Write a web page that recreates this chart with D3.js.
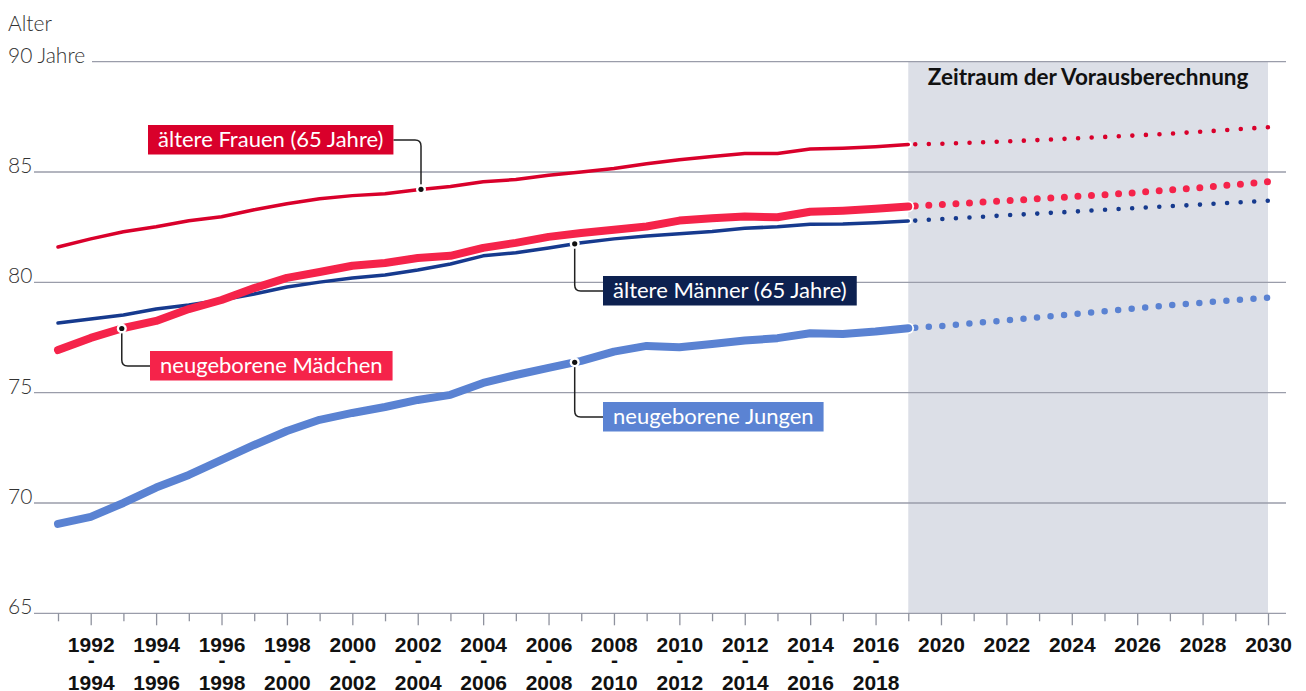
<!DOCTYPE html>
<html>
<head>
<meta charset="utf-8">
<script src="https://cdn.jsdelivr.net/npm/d3@7"></script>
<style>
  body { margin: 0; background: #fff; }
  svg { display: block; font-family: Lato, "Source Sans Pro", "Noto Sans", sans-serif; }
</style>
</head>
<body>
<div id="chart"></div>
<script>
// Zeitraeume der Sterbetafeln (Ist) und Jahre der Vorausberechnung
const periods = [
  '1991 - 1993', '1992 - 1994', '1993 - 1995', '1994 - 1996', '1995 - 1997', '1996 - 1998',
  '1997 - 1999', '1998 - 2000', '1999 - 2001', '2000 - 2002', '2001 - 2003', '2002 - 2004',
  '2003 - 2005', '2004 - 2006', '2005 - 2007', '2006 - 2008', '2007 - 2009', '2008 - 2010',
  '2009 - 2011', '2010 - 2012', '2011 - 2013', '2012 - 2014', '2013 - 2015', '2014 - 2016',
  '2015 - 2017', '2016 - 2018', '2017 - 2019'
];
const projectionYears = ['2019', '2020', '2021', '2022', '2023', '2024', '2025', '2026', '2027', '2028', '2029', '2030'];

const yTicks = [65, 70, 75, 80, 85, 90];
const yTickLabels = ['65', '70', '75', '80', '85', '90 Jahre'];

// Lebenserwartung (Alter in Jahren)
const frauenIst = [81.6, 81.97, 82.29, 82.52, 82.79, 82.97, 83.29, 83.56, 83.79, 83.93, 84.02, 84.2, 84.34,
  84.56, 84.66, 84.85, 85.0, 85.16, 85.37, 85.56, 85.7, 85.84, 85.84, 86.04, 86.08, 86.15, 86.25];
const frauenProj = [86.25, 86.28, 86.33, 86.39, 86.45, 86.52, 86.59, 86.66, 86.74, 86.83, 86.93, 87.03];

const maennerIst = [78.16, 78.34, 78.52, 78.79, 78.97, 79.2, 79.47, 79.79, 80.01, 80.2, 80.33, 80.56, 80.83,
  81.2, 81.34, 81.56, 81.79, 81.97, 82.1, 82.2, 82.3, 82.45, 82.52, 82.63, 82.64, 82.7, 82.78];
const maennerProj = [82.78, 82.87, 82.95, 83.04, 83.12, 83.2, 83.29, 83.37, 83.45, 83.53, 83.62, 83.7];

const maedchenIst = [76.93, 77.48, 77.93, 78.25, 78.79, 79.2, 79.74, 80.2, 80.47, 80.75, 80.88, 81.1, 81.2,
  81.56, 81.79, 82.06, 82.24, 82.38, 82.53, 82.8, 82.9, 82.98, 82.95, 83.2, 83.25, 83.33, 83.44];
const maedchenProj = [83.44, 83.52, 83.61, 83.7, 83.79, 83.88, 83.97, 84.07, 84.19, 84.3, 84.43, 84.56];

const jungenIst = [69.05, 69.37, 70.0, 70.7, 71.27, 71.95, 72.63, 73.26, 73.77, 74.08, 74.35, 74.67, 74.9,
  75.44, 75.8, 76.12, 76.44, 76.86, 77.12, 77.06, 77.21, 77.36, 77.47, 77.69, 77.66, 77.77, 77.92];
const jungenProj = [77.92, 78.02, 78.15, 78.28, 78.41, 78.55, 78.69, 78.83, 78.96, 79.08, 79.2, 79.3];

const xCategories = periods.concat(projectionYears.slice(1));

let width = 1306;
let height = 691;

let svg = d3.select('#chart')
  .append('svg')
  .attr('width', width)
  .attr('height', height);

let x = d3.scalePoint().domain(xCategories).range([58, 1268]);
let y = d3.scaleLinear().domain([65, 90]).range([613.3, 61.7]);

// Vorausberechnung Hintergrund
svg.append('rect')
  .attr('x', x(periods[periods.length - 1]))
  .attr('y', y(90))
  .attr('width', x('2030') - x(periods[periods.length - 1]))
  .attr('height', y(65) - y(90))
  .attr('fill', '#dcdfe7');

svg.append('text')
  .attr('x', (x(periods[periods.length - 1]) + x('2030')) / 2)
  .attr('y', 85)
  .attr('text-anchor', 'middle')
  .style('font-size', '22.5px')
  .style('font-weight', 'bold')
  .style('fill', '#111')
  .text('Zeitraum der Vorausberechnung');

// Gitterlinien
svg.append('g')
  .selectAll('line')
  .data(yTicks)
  .enter()
  .append('line')
  .attr('x1', d => d === 90 ? 92 : 34)
  .attr('x2', 1286)
  .attr('y1', d => y(d))
  .attr('y2', d => y(d))
  .attr('stroke', '#9a9daa')
  .attr('stroke-width', 1.3);

svg.append('g')
  .selectAll('text')
  .data(yTicks)
  .enter()
  .append('text')
  .attr('x', 8)
  .attr('y', d => y(d) + 1)
  .style('font-size', '21px')
  .style('font-weight', 300)
  .style('fill', '#333')
  .text((d, i) => yTickLabels[i]);

svg.append('text')
  .attr('x', 8)
  .attr('y', 31)
  .style('font-size', '21px')
  .style('font-weight', 300)
  .style('fill', '#333')
  .text('Alter');

// x-Achse
let xAxis = svg.append('g')
  .attr('transform', `translate(0,${y(65)})`)
  .call(d3.axisBottom(x).tickSize(12).tickFormat(''));

xAxis.select('.domain').remove();
xAxis.selectAll('.tick line')
  .attr('y2', (d, i) => i % 2 ? 12 : 8)
  .attr('stroke', '#8f929e')
  .attr('stroke-width', 1.3);

xAxis.selectAll('.tick text').remove();
xAxis.selectAll('.tick')
  .filter((d, i) => i % 2 === 1)
  .each(function(d) {
    let parts = d.split(' - ');
    let t = d3.select(this).append('text')
      .attr('text-anchor', 'middle')
      .style('font-size', '21px')
      .style('font-weight', 'bold')
      .style('fill', '#111');
    t.append('tspan').attr('x', 0).attr('y', 39).text(parts[0]);
    if (parts.length > 1) {
      t.append('tspan').attr('x', 0).attr('y', 54).text('-');
      t.append('tspan').attr('x', 0).attr('y', 77).text(parts[1]);
    }
  });

// Linien
let series = [
  { ist: frauenIst, proj: frauenProj, color: '#d9002b', w: 3.5, dot: 4.6 },
  { ist: maennerIst, proj: maennerProj, color: '#163a8e', w: 3.5, dot: 4.6 },
  { ist: maedchenIst, proj: maedchenProj, color: '#f5234a', w: 8, dot: 7 },
  { ist: jungenIst, proj: jungenProj, color: '#5a82d2', w: 8, dot: 6.5 }
];

let lineIst = d3.line()
  .x((d, i) => x(xCategories[i]))
  .y(d => y(d));
let lineProj = d3.line()
  .x((d, i) => x(xCategories[periods.length - 1 + i]))
  .y(d => y(d));

let lines = svg.selectAll('g.serie')
  .data(series)
  .enter()
  .append('g')
  .attr('class', 'serie');

lines.append('path')
  .attr('d', d => lineProj(d.proj))
  .attr('fill', 'none')
  .attr('stroke', d => d.color)
  .attr('stroke-width', d => d.dot)
  .attr('stroke-linecap', 'round')
  .attr('stroke-dasharray', '0 13.58')
  .attr('stroke-dashoffset', 6.6);

lines.append('circle')
  .attr('cx', d => x(periods[periods.length - 1]))
  .attr('cy', d => y(d.ist[d.ist.length - 1]))
  .attr('r', d => d.w / 2 + 1.8)
  .attr('fill', '#fff');

lines.append('path')
  .attr('d', d => lineIst(d.ist))
  .attr('fill', 'none')
  .attr('stroke', d => d.color)
  .attr('stroke-width', d => d.w)
  .attr('stroke-linecap', 'round')
  .attr('stroke-linejoin', 'round');

// Beschriftungen
let labels = [
  { text: 'ältere Frauen (65 Jahre)', values: frauenIst, at: 11.1, bg: '#d9002b', bx: 148, by: 125, side: 'up' },
  { text: 'ältere Männer (65 Jahre)', values: maennerIst, at: 15.8, bg: '#0d2150', bx: 603, by: 276, side: 'down' },
  { text: 'neugeborene Mädchen', values: maedchenIst, at: 1.95, bg: '#f5234a', bx: 150, by: 351, side: 'down' },
  { text: 'neugeborene Jungen', values: jungenIst, at: 15.8, bg: '#5b83d3', bx: 603, by: 402, side: 'down' }
];

let step = x.step();
labels.forEach(l => {
  let i0 = Math.floor(l.at), t = l.at - i0;
  l.mx = x(xCategories[0]) + l.at * step;
  l.my = y(l.values[i0] * (1 - t) + l.values[i0 + 1] * t);
});

let ann = svg.selectAll('g.ann')
  .data(labels)
  .enter()
  .append('g')
  .attr('class', 'ann');

ann.append('text')
  .attr('class', 'lbl')
  .attr('x', d => d.bx + 10)
  .attr('y', d => d.by + 22)
  .style('font-size', '22px')
  .style('fill', '#fff')
  .text(d => d.text);

ann.each(function(d) {
  let g = d3.select(this);
  let bb = g.select('text').node().getBBox();
  d.bw = bb.width + 20;
  g.insert('rect', 'text')
    .attr('x', d.bx)
    .attr('y', d.by)
    .attr('width', d.bw)
    .attr('height', 29.5)
    .attr('fill', d.bg);

  let cy = d.by + 15, r = 6, p;
  if (d.side === 'up') {
    p = `M${d.bx + d.bw},${cy} H${d.mx - r} Q${d.mx},${cy} ${d.mx},${cy + r} V${d.my}`;
  } else {
    p = `M${d.mx},${d.my} V${cy - r} Q${d.mx},${cy} ${d.mx + r},${cy} H${d.bx}`;
  }
  g.insert('path', 'rect')
    .attr('d', p)
    .attr('fill', 'none')
    .attr('stroke', '#222')
    .attr('stroke-width', 1.5);

  g.append('circle')
    .attr('cx', d.mx).attr('cy', d.my).attr('r', 5)
    .attr('fill', '#fff');
  g.append('circle')
    .attr('cx', d.mx).attr('cy', d.my).attr('r', 2.6)
    .attr('fill', '#111');
});
</script>
</body>
</html>
